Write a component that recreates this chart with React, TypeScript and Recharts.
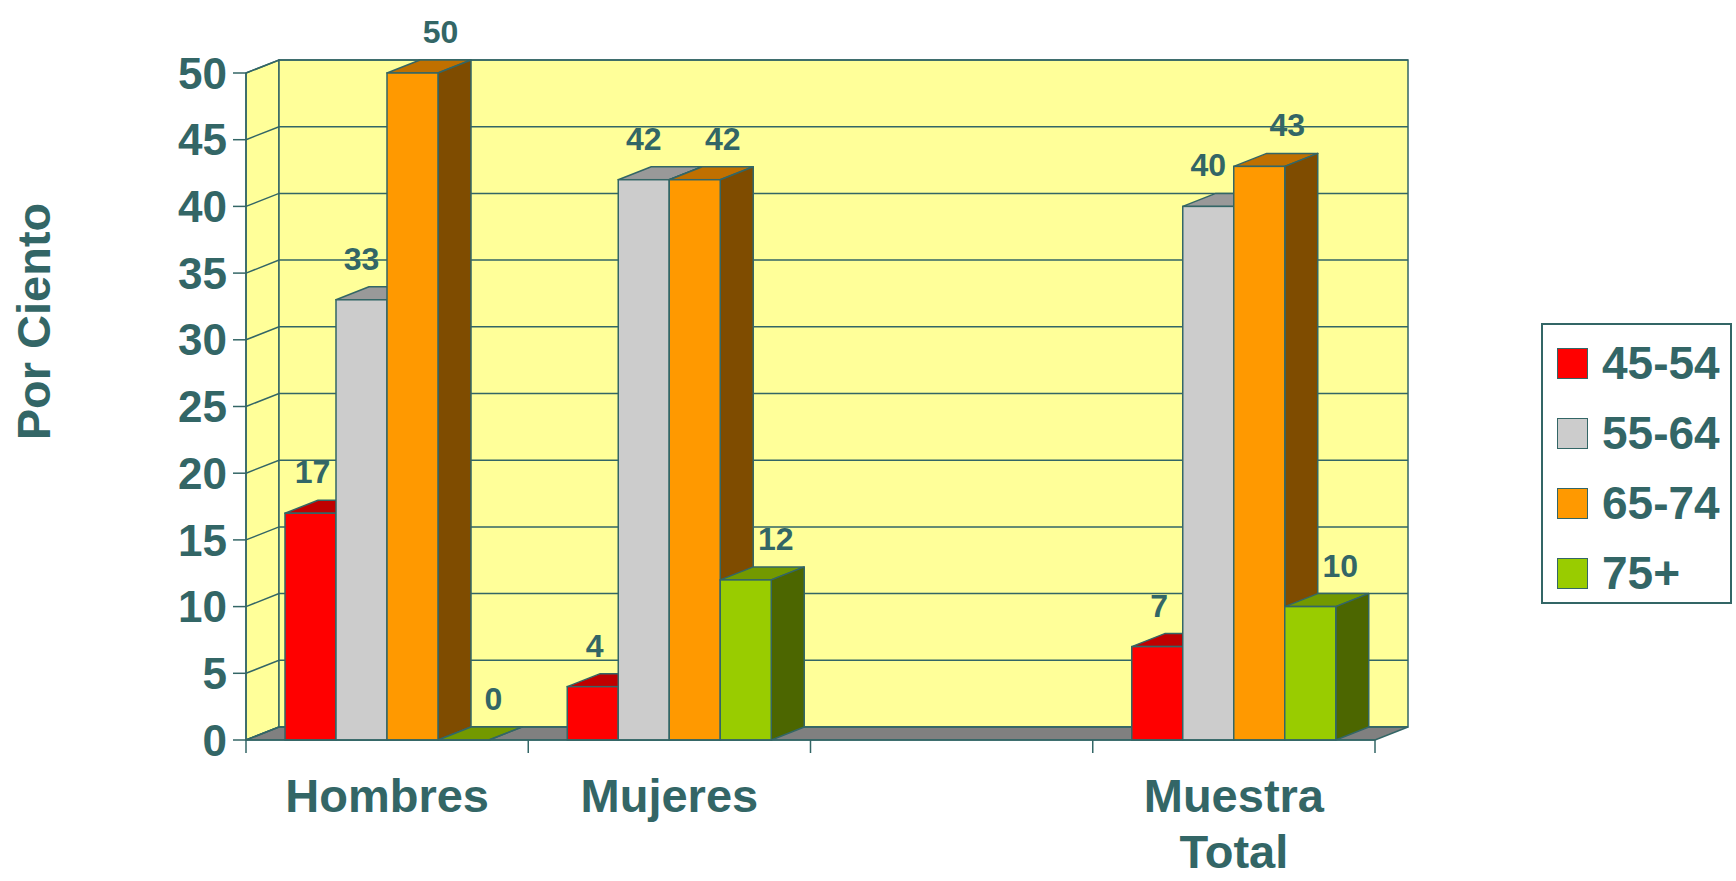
import React from 'react';
import { BarChart, Bar, XAxis, YAxis, CartesianGrid, Legend, LabelList } from 'recharts';

// chart values
const categories = ['Hombres', 'Mujeres', '', 'Muestra Total'];
const ageGroups = ['45-54', '55-64', '65-74', '75+'];
const values4554 = [17, 4, null, 7];
const values5564 = [33, 42, null, 40];
const values6574 = [50, 42, null, 43];
const values75 = [0, 12, null, 10];
const yTicks = [0, 5, 10, 15, 20, 25, 30, 35, 40, 45, 50];

const seriesValues = [values4554, values5564, values6574, values75];

const data = categories.map((cat, i) => {
  const row: any = { cat };
  seriesValues.forEach((vals, k) => {
    row[`s${k}`] = vals[i];
  });
  return row;
});

// looks
const INK = '#336666';
const FONT = '"Liberation Sans", Arial, sans-serif';
const WALL = '#FFFF99';
const FLOOR = '#808080';
const DX = 33; // depth of the fake 3d
const DY = 13;

const seriesStyle = [
  { front: '#FF0000', top: '#C00000', side: '#990000', labelShift: 2 },
  { front: '#CCCCCC', top: '#999999', side: '#808080', labelShift: 0 },
  { front: '#FF9900', top: '#C07000', side: '#7F4C00', labelShift: 28 },
  { front: '#99CC00', top: '#739900', side: '#4C6600', labelShift: 30 },
];

function Box3D(props: any) {
  const { x, y, width, height, style, hide } = props;
  if (hide || x == null || isNaN(y)) return <g />;
  const r = x + width;
  const b = y + height;
  return (
    <g>
      <polygon
        points={`${x},${y} ${x + DX},${y - DY} ${r + DX},${y - DY} ${r},${y}`}
        fill={style.top}
        stroke={INK}
        strokeWidth={1.5}
        strokeLinejoin="round"
      />
      <polygon
        points={`${r},${y} ${r + DX},${y - DY} ${r + DX},${b - DY} ${r},${b}`}
        fill={style.side}
        stroke={INK}
        strokeWidth={1.5}
        strokeLinejoin="round"
      />
      {height > 0 && (
        <rect x={x} y={y} width={width} height={height} fill={style.front} stroke={INK} strokeWidth={1.5} />
      )}
    </g>
  );
}

// gridline renderer, also paints the walls and floor before the first line
const gridLine = (p: any) => {
  const { x1, y1, x2, index, x, y, width, height } = p;
  const bottom = y + height;
  return (
    <g key={`gl-${index}`}>
      {index === 0 && (
        <g>
          <polygon
            points={`${x},${bottom} ${x},${y} ${x + DX},${y - DY} ${x + DX},${bottom - DY}`}
            fill={WALL}
            stroke={INK}
            strokeWidth={1.5}
          />
          <rect x={x + DX} y={y - DY} width={width} height={height} fill={WALL} stroke={INK} strokeWidth={1.5} />
          <polygon
            points={`${x},${bottom} ${x + DX},${bottom - DY} ${x + width + DX},${bottom - DY} ${x + width},${bottom}`}
            fill={FLOOR}
            stroke={INK}
            strokeWidth={1.5}
          />
        </g>
      )}
      <polyline
        points={`${x1},${y1} ${x1 + DX},${y1 - DY} ${x2 + DX},${y1 - DY}`}
        fill="none"
        stroke={INK}
        strokeWidth={1.5}
      />
    </g>
  );
};

function CategoryTick(props: any) {
  const { x, y, payload, index, visibleTicksCount } = props;
  const half = payload && payload.offset ? payload.offset : 141;
  const axisY = y - 13;
  const last = (visibleTicksCount ?? categories.length) - 1;
  const lines = String(payload.value).split(' ').filter(Boolean);
  return (
    <g>
      <line x1={x - half} y1={axisY} x2={x - half} y2={axisY + 13} stroke={INK} strokeWidth={1.5} />
      {index === last && (
        <line x1={x + half} y1={axisY} x2={x + half} y2={axisY + 13} stroke={INK} strokeWidth={1.5} />
      )}
      {lines.map((t, i) => (
        <text
          key={i}
          x={x}
          y={axisY + 72 + i * 56}
          textAnchor="middle"
          fill={INK}
          fontSize={47}
          fontWeight={700}
          fontFamily={FONT}
        >
          {t}
        </text>
      ))}
    </g>
  );
}

function YTitle(props: any) {
  const vb = props.viewBox || { x: 0, y: 73, width: 246, height: 667 };
  const cx = vb.x + 33;
  const cy = vb.y + vb.height / 2 - 85;
  return (
    <text
      x={cx}
      y={cy}
      transform={`rotate(-90 ${cx} ${cy})`}
      textAnchor="middle"
      dominantBaseline="central"
      fill={INK}
      fontSize={47}
      fontWeight={700}
      fontFamily={FONT}
    >
      Por Ciento
    </text>
  );
}

const valueLabel = (shift: number) => (p: any) => {
  const { x, y, width, value } = p;
  if (value == null || x == null) return null;
  return (
    <text
      x={x + width / 2 + shift}
      y={y - 30}
      textAnchor="middle"
      fill={INK}
      fontSize={32}
      fontWeight={700}
      fontFamily={FONT}
    >
      {value}
    </text>
  );
};

function LegendBox({ payload }: any) {
  const items = payload && payload.length
    ? payload
    : ageGroups.map((g, i) => ({ value: g, color: seriesStyle[i].front }));
  return (
    <div
      style={{
        position: 'relative',
        width: 191,
        height: 281,
        border: `2px solid ${INK}`,
        boxSizing: 'border-box',
        background: '#fff',
      }}
    >
      {items.map((e: any, i: number) => (
        <div
          key={i}
          style={{
            position: 'absolute',
            left: 14,
            top: 23 + i * 70,
            height: 31,
            display: 'flex',
            alignItems: 'center',
          }}
        >
          <span
            style={{
              display: 'inline-block',
              width: 31,
              height: 31,
              boxSizing: 'border-box',
              background: e.color,
              border: `1.5px solid ${INK}`,
            }}
          />
          <span
            style={{
              marginLeft: 14,
              fontSize: 46,
              lineHeight: '31px',
              fontWeight: 700,
              color: INK,
              fontFamily: FONT,
              whiteSpace: 'nowrap',
            }}
          >
            {e.value}
          </span>
        </div>
      ))}
    </div>
  );
}

export default function App() {
  return (
    <div style={{ position: 'absolute', left: 0, top: 0, width: 1736, height: 881, background: '#fff' }}>
      <BarChart
        width={1736}
        height={881}
        data={data}
        margin={{ top: 73, right: 361, bottom: 0, left: 0 }}
        barGap={0}
      >
        <CartesianGrid horizontal={gridLine} vertical={false} />
        <XAxis
          dataKey="cat"
          interval={0}
          height={141}
          tickSize={13}
          tickMargin={0}
          tickLine={false}
          tick={<CategoryTick />}
          axisLine={{ stroke: INK, strokeWidth: 1.5 }}
        />
        <YAxis
          domain={[0, 50]}
          ticks={yTicks}
          interval={0}
          width={246}
          tickSize={13}
          tickMargin={6}
          tick={{ fill: INK, fontSize: 44, fontWeight: 700, fontFamily: FONT }}
          tickLine={{ stroke: INK, strokeWidth: 1.5 }}
          axisLine={{ stroke: INK, strokeWidth: 1.5 }}
          label={{ value: 'Por Ciento', content: YTitle }}
        />
        <Legend
          layout="vertical"
          align="center"
          verticalAlign="middle"
          content={LegendBox}
          wrapperStyle={{ position: 'absolute', left: 1541, top: 323, width: 191, height: 281 }}
        />
        {seriesStyle.map((st, k) => (
          <Bar
            key={k}
            dataKey={`s${k}`}
            name={ageGroups[k]}
            fill={st.front}
            barSize={51}
            isAnimationActive={false}
            shape={(p: any) => (
              <Box3D {...p} style={st} hide={p.payload == null || p.payload[`s${k}`] == null} />
            )}
          >
            <LabelList dataKey={`s${k}`} content={valueLabel(st.labelShift)} />
          </Bar>
        ))}
      </BarChart>
    </div>
  );
}
